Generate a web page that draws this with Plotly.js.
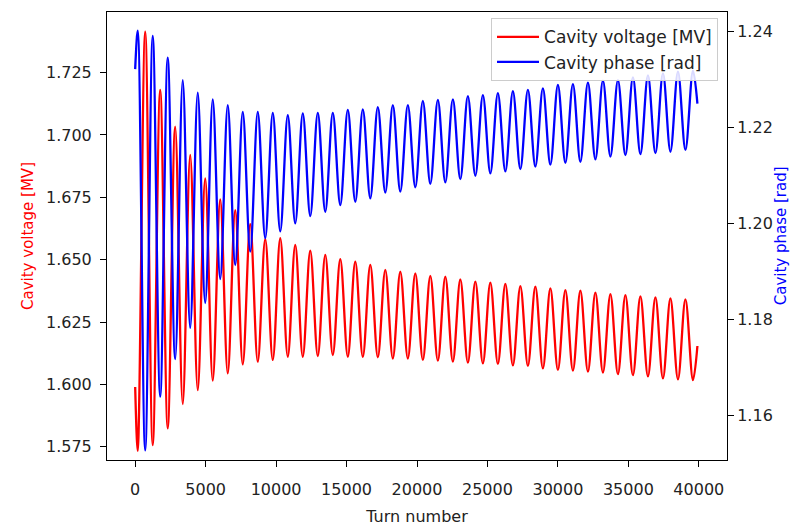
<!DOCTYPE html>
<html>
<head>
<meta charset="utf-8">
<script src="https://cdn.plot.ly/plotly-3.0.1.min.js"></script>
<style>
  html, body { margin: 0; padding: 0; background: #fff; }
  #chart { width: 792px; height: 526px; }
</style>
</head>
<body>
<div id="chart"></div>
<script>
// Turn numbers: start, each oscillation extreme, end
const turnNumber = [0,
  180, 710, 1245, 1775, 2310, 2840, 3375, 3905, 4440, 4970,
  5505, 6035, 6570, 7100, 7635, 8165, 8700, 9230, 9765, 10295,
  10830, 11360, 11895, 12425, 12960, 13490, 14025, 14555, 15090, 15620,
  16155, 16685, 17220, 17750, 18285, 18815, 19350, 19880, 20415, 20945,
  21480, 22010, 22545, 23075, 23610, 24140, 24675, 25205, 25740, 26270,
  26805, 27335, 27870, 28400, 28935, 29465, 30000, 30530, 31065, 31595,
  32130, 32660, 33195, 33725, 34260, 34790, 35325, 35855, 36390, 36920,
  37455, 37985, 38520, 39050, 39585,
  39900];

// Cavity voltage [MV]
const cavityVoltage = [1.5990,
  1.5734, 1.7414, 1.5757, 1.7181, 1.5824, 1.7033, 1.5921, 1.6920, 1.5977, 1.6826,
  1.6015, 1.6742, 1.6044, 1.6699, 1.6080, 1.6643, 1.6091, 1.6582, 1.6098, 1.6586,
  1.6111, 1.6559, 1.6111, 1.6536, 1.6114, 1.6519, 1.6118, 1.6502, 1.6111, 1.6492,
  1.6111, 1.6479, 1.6109, 1.6459, 1.6104, 1.6452, 1.6104, 1.6445, 1.6098, 1.6435,
  1.6095, 1.6432, 1.6091, 1.6421, 1.6087, 1.6412, 1.6084, 1.6408, 1.6082, 1.6403,
  1.6076, 1.6394, 1.6074, 1.6392, 1.6064, 1.6385, 1.6058, 1.6378, 1.6055, 1.6376,
  1.6051, 1.6368, 1.6047, 1.6362, 1.6041, 1.6358, 1.6037, 1.6353, 1.6032, 1.6349,
  1.6024, 1.6345, 1.6020, 1.6341, 1.6017,
  1.6154];

// Cavity phase [rad]
const cavityPhase = [1.2322,
  1.2402, 1.1528, 1.2391, 1.1640, 1.2346, 1.1718, 1.2299, 1.1783, 1.2273, 1.1835,
  1.2259, 1.1885, 1.2247, 1.1914, 1.2233, 1.1942, 1.2233, 1.1970, 1.2231, 1.1984,
  1.2226, 1.2001, 1.2230, 1.2016, 1.2231, 1.2025, 1.2231, 1.2039, 1.2237, 1.2046,
  1.2238, 1.2053, 1.2243, 1.2065, 1.2247, 1.2067, 1.2247, 1.2076, 1.2256, 1.2083,
  1.2258, 1.2086, 1.2259, 1.2093, 1.2266, 1.2100, 1.2268, 1.2105, 1.2272, 1.2109,
  1.2276, 1.2114, 1.2279, 1.2119, 1.2282, 1.2123, 1.2289, 1.2127, 1.2291, 1.2129,
  1.2294, 1.2134, 1.2298, 1.2140, 1.2299, 1.2143, 1.2305, 1.2145, 1.2309, 1.2147,
  1.2313, 1.2150, 1.2317, 1.2154, 1.2319,
  1.2250];

const xTicks = [0, 5000, 10000, 15000, 20000, 25000, 30000, 35000, 40000];
const voltageTicks = [1.575, 1.600, 1.625, 1.650, 1.675, 1.700, 1.725];
const phaseTicks = [1.16, 1.18, 1.20, 1.22, 1.24];

const FONT = 'DejaVu Sans, sans-serif';
const TXT = '#222222';

const traces = [
  {
    x: turnNumber, y: cavityVoltage, type: 'scatter', mode: 'lines',
    name: 'Cavity voltage [MV]', yaxis: 'y',
    line: { color: '#ff0000', width: 2.3, shape: 'spline', smoothing: 1 }
  },
  {
    x: turnNumber, y: cavityPhase, type: 'scatter', mode: 'lines',
    name: 'Cavity phase [rad]', yaxis: 'y2',
    line: { color: '#0000ff', width: 2.3, shape: 'spline', smoothing: 1 }
  }
];

const layout = {
  width: 792, height: 526,
  margin: { l: 107, r: 65, t: 12, b: 66 },
  paper_bgcolor: '#ffffff', plot_bgcolor: '#ffffff',
  font: { family: FONT, size: 16, color: TXT },
  showlegend: true,
  legend: {
    x: 0.9855, y: 0.986, xanchor: 'right', yanchor: 'top',
    bgcolor: 'rgba(255,255,255,0.85)', bordercolor: '#cccccc', borderwidth: 1,
    font: { family: FONT, size: 17, color: TXT },
    itemwidth: 42,
    tracegroupgap: 0
  },
  xaxis: {
    range: [-2000, 42000],
    tickmode: 'array', tickvals: xTicks, ticktext: xTicks.map(String),
    ticks: 'outside', ticklen: 6, tickwidth: 1, tickcolor: '#000',
    ticklabelstandoff: 9,
    showline: true, linecolor: '#000', linewidth: 1, mirror: true,
    showgrid: false, zeroline: false,
    tickfont: { family: FONT, size: 16, color: TXT },
    title: { text: 'Turn number', font: { family: FONT, size: 16, color: TXT }, standoff: 12 }
  },
  yaxis: {
    range: [1.5697, 1.7493],
    tickmode: 'array', tickvals: voltageTicks, ticktext: voltageTicks.map(v => v.toFixed(3)),
    ticks: 'outside', ticklen: 6, tickwidth: 1, tickcolor: '#000',
    ticklabelstandoff: 5,
    showline: true, linecolor: '#000', linewidth: 1, mirror: true,
    showgrid: false, zeroline: false,
    tickfont: { family: FONT, size: 16, color: TXT },
    title: { text: 'Cavity voltage [MV]', font: { family: FONT, size: 15, color: '#ff0000' }, standoff: 8 }
  },
  yaxis2: {
    range: [1.1508, 1.2441],
    overlaying: 'y', side: 'right',
    tickmode: 'array', tickvals: phaseTicks, ticktext: phaseTicks.map(v => v.toFixed(2)),
    ticks: 'outside', ticklen: 6, tickwidth: 1, tickcolor: '#000',
    showline: true, linecolor: '#000', linewidth: 1,
    showgrid: false, zeroline: false,
    tickfont: { family: FONT, size: 16, color: TXT }
  },
  annotations: [
    {
      // right axis title, pushed as close to the figure edge as possible
      text: 'Cavity phase [rad]', xref: 'paper', yref: 'paper',
      x: 1.0875, y: 0.5, xanchor: 'center', yanchor: 'middle',
      textangle: -90, showarrow: false,
      font: { family: FONT, size: 15, color: '#0000ff' }
    }
  ]
};

Plotly.newPlot('chart', traces, layout, { displayModeBar: false, staticPlot: true });
</script>
</body>
</html>
